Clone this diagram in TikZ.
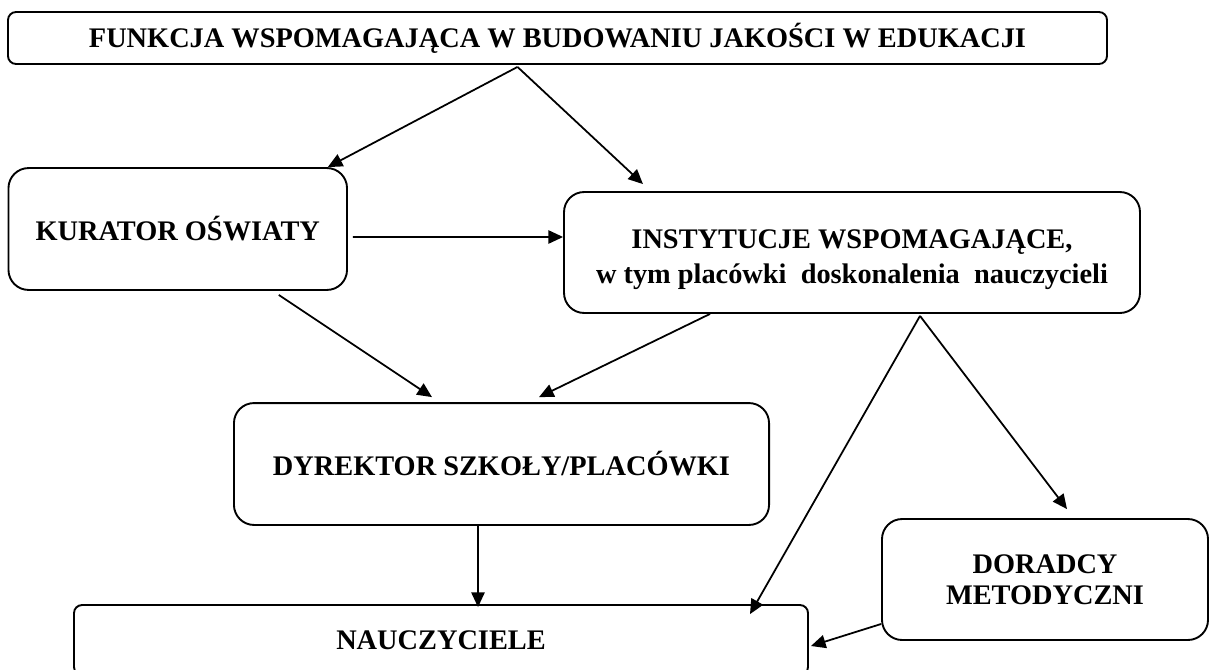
\documentclass[tikz,border=0pt]{standalone}
\usepackage{fontspec}
\setmainfont{Liberation Serif}
\usetikzlibrary{arrows.meta,calc}
\begin{document}
\begin{tikzpicture}[x=0.4233pt,y=0.4233pt,
	every node/.style={font=\bfseries\fontsize{12}{13.1}\selectfont,align=center,inner sep=0pt},
	box/.style={draw,line width=0.8pt,rounded corners=8.5pt},
	flatbox/.style={draw,line width=0.8pt,rounded corners=3.4pt},
	arr/.style={line width=0.75pt,-{Triangle[length=6.2pt,width=5.6pt]}}]
	\useasboundingbox (0,0) rectangle (1210,669);
	\clip (0,0) rectangle (1210,669);
	% boxes
	\node[flatbox,minimum width=465.2pt,minimum height=22pt] (funkcja) at (557.5,631) {FUNKCJA WSPOMAGAJĄCA W BUDOWANIU JAKOŚCI W EDUKACJI};
	\node[box,minimum width=143.3pt,minimum height=51.6pt] (kurator) at (177.75,440) {KURATOR OŚWIATY};
	\node[box,minimum width=243.8pt,minimum height=51.2pt] (instytucje) at (852,416.5) {\rule{0pt}{14pt}INSTYTUCJE WSPOMAGAJĄCE,\\[1.7pt] w tym placówki\ \ doskonalenia\ \ nauczycieli};
	\node[box,minimum width=226.5pt,minimum height=51.6pt] (dyrektor) at (501.5,205) {DYREKTOR SZKOŁY/PLACÓWKI};
	\node[box,minimum width=138pt,minimum height=51.2pt] (doradcy) at (1045,89.5) {DORADCY\\METODYCZNI};
	\node[flatbox,minimum width=310.7pt,minimum height=29.6pt] (nauczyciele) at (441,29) {NAUCZYCIELE};
	% arrows from the top
	\coordinate (top) at ($(funkcja.south)+(-40,-2)$);
	\draw[arr] (top) -- ($(kurator.north)+(150,0)$);
	\draw[arr] (top) -- ($(instytucje.north)+(-209,7)$);
	\draw[arr] ($(kurator.east)+(5,-8)$) -- ($(instytucje.west)+(0,15.5)$);
	% to the head teacher
	\draw[arr] ($(kurator.south)+(101,-4)$) -- ($(dyrektor.north)+(-69.5,5)$);
	\draw[arr] ($(instytucje.south)+(-142,0)$) -- ($(dyrektor.north)+(37.5,5)$);
	% from the institutions
	\coordinate (split) at ($(instytucje.south)+(68,-2)$);
	\draw[arr] (split) -- ($(nauczyciele.north)+(309,-10)$);
	\draw[arr] (split) -- ($(doradcy.north)+(22,9)$);
	% to the teachers
	\draw[arr] ($(dyrektor.south)+(-23.5,0)$) -- ($(nauczyciele.north)+(37,-3)$);
	\draw[arr] ($(doradcy.west)+(0,-44.5)$) -- ($(nauczyciele.east)+(2,-6)$);
\end{tikzpicture}
\end{document}
